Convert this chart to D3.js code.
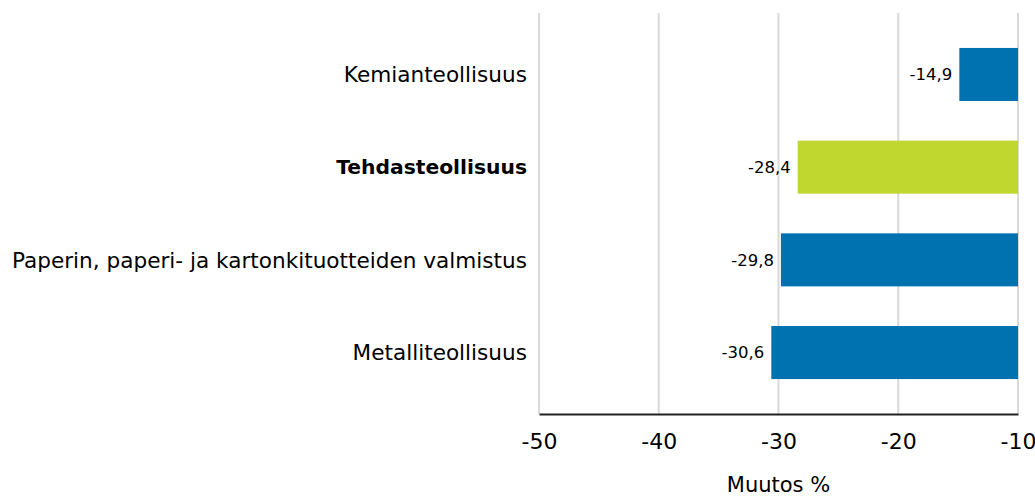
<!DOCTYPE html>
<html>
<head>
<meta charset="utf-8">
<script src="https://cdn.jsdelivr.net/npm/d3@7"></script>
<style>
  body { margin: 0; background: #fff; }
  svg { display: block; font-family: "DejaVu Sans", Verdana, sans-serif; }
</style>
</head>
<body>
<div id="chart"></div>
<script>
// Toimialat ja muutos %
const categories = [
    "Kemianteollisuus",
    "Tehdasteollisuus",
    "Paperin, paperi- ja kartonkituotteiden valmistus",
    "Metalliteollisuus"
];
const values = [-14.9, -28.4, -29.8, -30.6];
const highlighted = ["Tehdasteollisuus"];
const xTicks = [-50, -40, -30, -20, -10];
const xTitle = "Muutos %";

const width = 1035, height = 497;
const plot = { left: 539, right: 1018, top: 13, bottom: 414 };

const svg = d3.select("#chart").append("svg")
    .attr("width", width)
    .attr("height", height);

const x = d3.scaleLinear().domain([-50, -10]).range([plot.left, plot.right]);
const y = d3.scaleBand().domain(categories).range([plot.top, plot.bottom])
    .paddingInner(0.428).paddingOuter(0.377);

// ruudukko
svg.append("g")
    .selectAll("line")
    .data(xTicks)
    .join("line")
    .attr("x1", d => x(d)).attr("x2", d => x(d))
    .attr("y1", plot.top).attr("y2", plot.bottom)
    .attr("stroke", "#d9d9d9")
    .attr("stroke-width", 2);

// palkit
svg.append("g")
    .selectAll("rect")
    .data(categories)
    .join("rect")
    .attr("x", (d, i) => x(values[i]))
    .attr("width", (d, i) => x(-10) - x(values[i]))
    .attr("y", d => y(d))
    .attr("height", y.bandwidth())
    .attr("fill", d => highlighted.includes(d) ? "#c0d730" : "#0072b0");

// arvot
svg.append("g")
    .selectAll("text")
    .data(categories)
    .join("text")
    .attr("x", (d, i) => x(values[i]) - 7)
    .attr("y", d => y(d) + y.bandwidth() / 2)
    .attr("dy", "0.36em")
    .attr("text-anchor", "end")
    .attr("font-size", 16.5)
    .attr("fill", "#000")
    .text((d, i) => d3.format(".1f")(values[i]).replace(".", ",").replace("−", "-"));

// luokat
svg.append("g")
    .selectAll("text")
    .data(categories)
    .join("text")
    .attr("x", plot.left - 12)
    .attr("y", d => y(d) + y.bandwidth() / 2)
    .attr("dy", "0.36em")
    .attr("text-anchor", "end")
    .attr("font-size", d => highlighted.includes(d) ? 20.3 : 21.6)
    .attr("font-weight", d => highlighted.includes(d) ? "bold" : "normal")
    .attr("fill", "#000")
    .text(d => d);

// x-akseli
const xAxis = svg.append("g")
    .attr("transform", `translate(0,${plot.bottom})`)
    .call(d3.axisBottom(x).tickValues(xTicks).tickSize(0).tickPadding(19)
        .tickFormat(d => String(d)));
xAxis.select(".domain").attr("stroke", "#222").attr("stroke-width", 2);
xAxis.selectAll("text")
    .attr("font-size", 22)
    .attr("font-family", "DejaVu Sans, Verdana, sans-serif")
    .attr("fill", "#000");

svg.append("text")
    .attr("x", (plot.left + plot.right) / 2)
    .attr("y", 492)
    .attr("text-anchor", "middle")
    .attr("font-size", 21)
    .attr("fill", "#000")
    .text(xTitle);
</script>
</body>
</html>
